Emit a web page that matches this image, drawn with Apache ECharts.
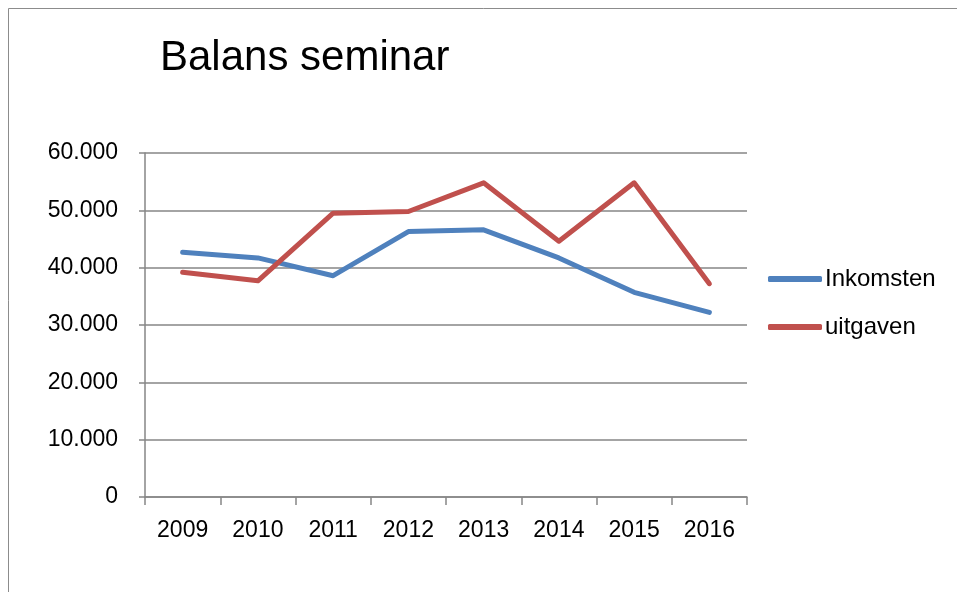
<!DOCTYPE html>
<html>
<head>
<meta charset="utf-8">
<script src="https://cdn.jsdelivr.net/npm/echarts@6/dist/echarts.min.js"></script>
<style>
html,body{margin:0;padding:0;background:#fff;}
#c{width:957px;height:592px;}
</style>
</head>
<body>
<div id="c"></div>
<script>
const categories = ['2009','2010','2011','2012','2013','2014','2015','2016'];
const inkomsten = [42700, 41700, 38600, 46300, 46600, 41700, 35700, 32200];
const uitgaven = [39200, 37700, 49500, 49800, 54800, 44600, 54800, 37200];
const seriesNames = ['Inkomsten', 'uitgaven'];
const titleText = 'Balans seminar';

const chart = echarts.init(document.getElementById('c'), null, {renderer: 'canvas'});
const font = 'Liberation Sans, Arial, sans-serif';
chart.setOption({
  animation: false,
  backgroundColor: '#fff',
  graphic: [{
    type: 'rect',
    shape: {x: 8.5, y: 8.5, width: 1000, height: 700},
    style: {fill: 'none', stroke: '#8c8c8c', lineWidth: 1}
  }],
  title: {
    text: titleText,
    left: 155, top: 32,
    textStyle: {fontFamily: font, fontSize: 42, fontWeight: 'normal', color: '#000'}
  },
  legend: {
    orient: 'vertical',
    left: 768, top: 267,
    padding: 0,
    itemWidth: 54, itemHeight: 6, itemGap: 24,
    icon: 'roundRect',
    textStyle: {fontFamily: font, fontSize: 24, color: '#000', padding: [0,0,0,-2]},
    data: seriesNames
  },
  grid: {left: 145, top: 153, width: 602, height: 344, containLabel: false},
  xAxis: {
    type: 'category',
    data: categories,
    boundaryGap: true,
    axisLine: {lineStyle: {color: '#868686', width: 1.5}},
    axisTick: {show: true, length: 8, lineStyle: {color: '#868686', width: 1.5}},
    axisLabel: {fontFamily: font, fontSize: 23, color: '#000', margin: 22}
  },
  yAxis: {
    type: 'value',
    min: 0, max: 60000, interval: 10000,
    axisLine: {show: true, lineStyle: {color: '#868686', width: 1.5}},
    axisTick: {show: true, length: 6, lineStyle: {color: '#868686', width: 1.5}},
    splitLine: {lineStyle: {color: '#868686', width: 1.5}},
    axisLabel: {
      fontFamily: font, fontSize: 23, color: '#000', margin: 27,
      formatter: v => v === 0 ? '0' : (v/1000).toFixed(0) + '.000'
    }
  },
  series: [
    {name: seriesNames[0], type: 'line', data: inkomsten, symbol: 'none',
     color: '#4f81bd', lineStyle: {width: 5, color: '#4f81bd', cap: 'round', join: 'round'}},
    {name: seriesNames[1], type: 'line', data: uitgaven, symbol: 'none',
     color: '#c0504d', lineStyle: {width: 5, color: '#c0504d', cap: 'round', join: 'round'}}
  ]
});
</script>
</body>
</html>
